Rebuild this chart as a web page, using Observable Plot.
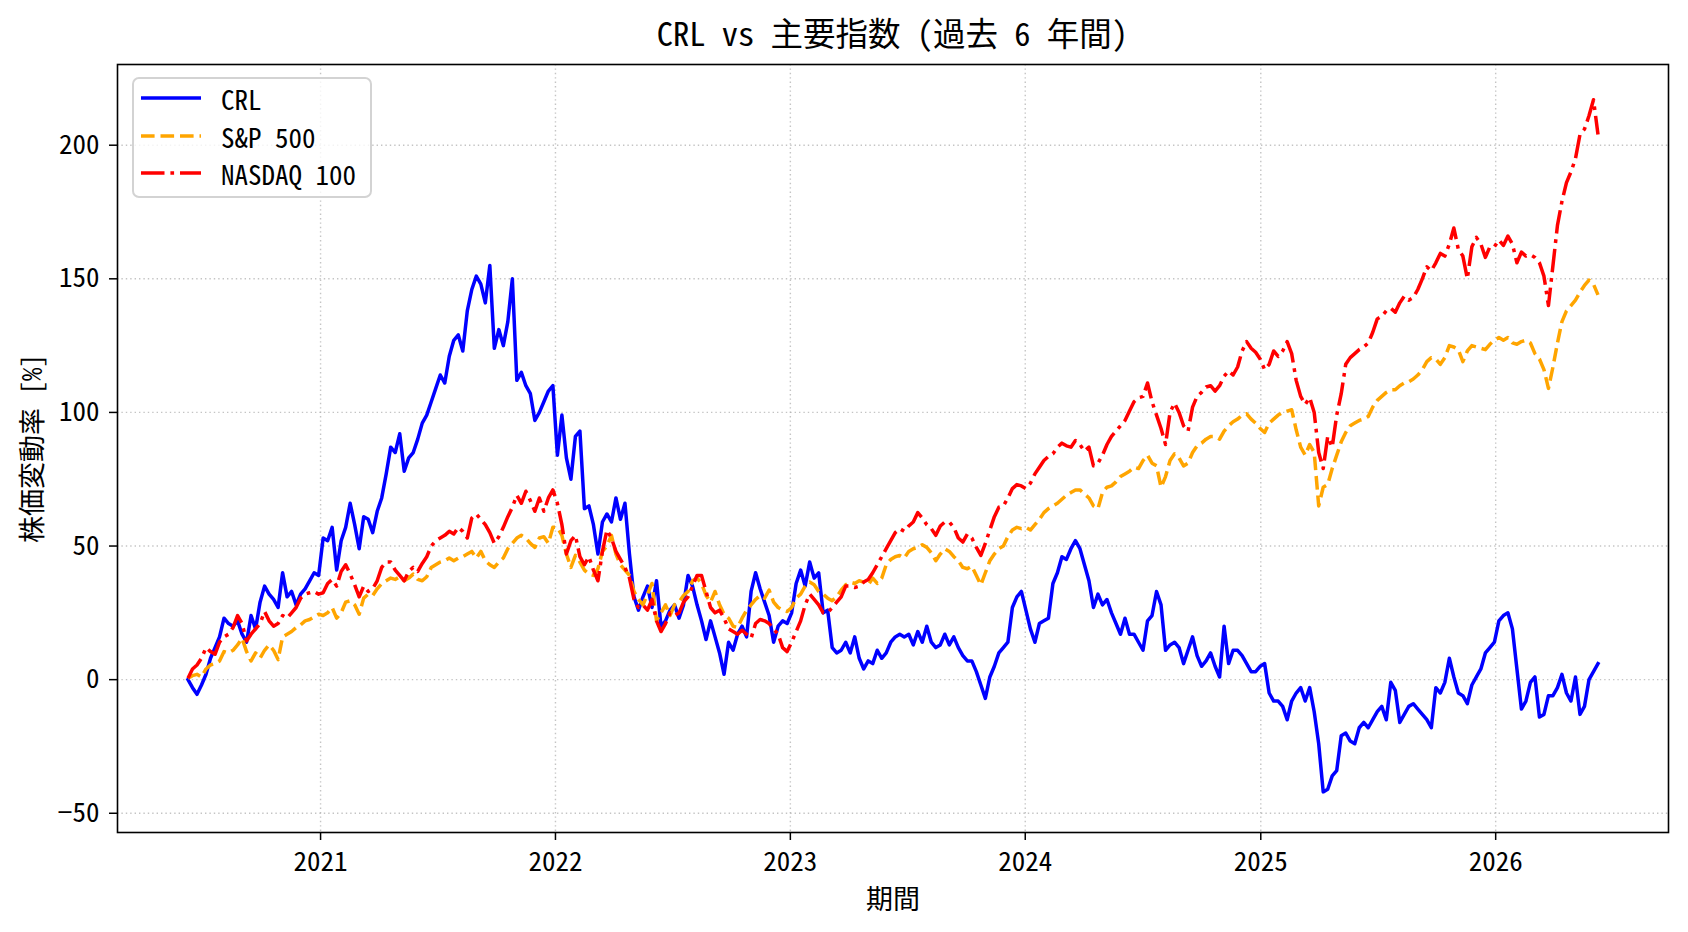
<!DOCTYPE html>
<html>
<head>
<meta charset="utf-8">
<script src="https://cdn.jsdelivr.net/npm/d3@7"></script>
<script src="https://cdn.jsdelivr.net/npm/@observablehq/plot@0.6"></script>
<style>
  html, body { margin: 0; padding: 0; background: #ffffff; }
  #wrap { position: relative; width: 1688px; height: 932px; font-family: "Noto Sans CJK JP", sans-serif; color: #000;
          font-feature-settings: "hwid" 1; }
  svg text { font-feature-settings: "hwid" 1; }
  #title { box-sizing: border-box; width: 1688px; height: 56px; padding: 15px 20px 0 117px; text-align: center; font-size: 32.5px; line-height: 34px; }
  #legend { position: absolute; left: 132px; top: 77px; width: 240px; height: 121px; box-sizing: border-box;
            border: 2px solid #d3d3d3; border-radius: 7px; background: rgba(255,255,255,0.8); font-size: 27px; }
  .row { position: absolute; left: 7px; height: 30px; display: flex; align-items: center; white-space: pre; }
  .row svg { display: block; margin-right: 20px; }
</style>
</head>
<body>
<div id="wrap">
  <div id="title">CRL vs 主要指数 (過去 6 年間)</div>
  <div id="chart"></div>
  <div id="legend"></div>
</div>
<script>
// ---- data (weekly closes, % change from start) ----
const startDate = "2020-06-09";
const seriesNames = ["CRL", "S&P 500", "NASDAQ 100"];
const seriesColors = ["#0000ff", "#ffa500", "#ff0000"];
const yTickValues = [-50, 0, 50, 100, 150, 200];
const xTickYears = [2021, 2022, 2023, 2024, 2025, 2026];

const crl = [
0,-3,-5.5,-2,2,8,12,16,23,21,
20,22,17,14,24,19,29,35,32,30,
27,40,31,33,28,32,34,37,40,39,
53,52,57,41,52,57,66,58,49,61,
60,55,63,68,77,87,85,92,78,83,
85,90,96,99,104,109,114,111,121,127,
129,123,138,146,151,148,141,155,124,131,
125,134,150,112,115,110,107,97,100,104,
108,110,84,99,83,75,91,93,64,65,
58,47,59,62,59,68,60,66,47,31,
26,31,35,27,37,20,22,26,28,23,
28,39,35,28,22,15,22,16,10,2,
14,11,17,20,16,33,40,34,29,24,
14,20,22,21,25,36,41,35,44,38,
40,25,26,12,10,11,14,10,16,8,
4,7,6,11,8,10,14,16,17,16,
17,13,18,14,20,14,12,13,17,13,
16,12,9,7,7,3,-2,-7,1,5,
10,12,14,27,31,33,26,19,14,21,
22,23,36,40,46,45,49,52,49,43,
37,27,32,28,30,25,21,17,23,17,
17,14,11,22,24,33,28,11,13,14,
12,6,11,16,9,5,7,10,5,1,
20,6,11,11,9,6,3,3,5,6,
-5,-8,-8,-10,-15,-8,-5,-3,-8,-3,
-12,-24,-42,-41,-36,-34,-21,-20,-23,-24,
-18,-16,-18,-15,-12,-10,-15,-1,-4,-16,
-13,-10,-9,-11,-13,-15,-18,-3,-5,-1,
8,1,-5,-6,-9,-2,1,4,10,12,
14,22,24,25,19,4,-11,-8,-1,1,
-14,-13,-6,-6,-3,2,-5,-8,1,-13,
-10,0,3,6
];

const sp500 = [
0.5,1.5,2,1,4,5.5,6,7,10.5,10,
11,13,15.5,10.5,7,10,8,11,13,11,
7.5,16,17,18,19.5,20.5,22,22.5,23.5,24.5,
24,25,27,23,25,29,29.5,28,24.5,30.5,
32,31.5,34,36,37,38,37.5,38.5,37,38,
39.5,37.5,37,38.5,42,43,44,44.5,45.5,44.5,
45.5,46,47,48,45.5,48,44.5,43,42,44,
45.5,49,51,53,54,53,51,49.5,53,53.5,
51,57,57,54,47,42,46.5,44,41,39.5,
39,41.5,48,50,54,47,43,41,39,33,
30,28,32,36,22,25,28,24,28,29,
31.5,33,37,38,36,31.5,29,33,28,24.5,
23,20,19.5,23,26,28,30,31.5,30.5,33.5,
29,27,26,25.5,27,30.5,32,35,36.5,35.5,
33,32,30.5,29.5,31,33.5,35.5,36.5,36,37,
36.5,35.5,38,36,38,43,45,46,46.5,45.5,
48,49,49.5,50.5,49.5,47.5,44.5,47,49,48,
46,44.5,42,41.5,42.5,39,35.5,40,44.5,47,
49,50,53.5,56,57,56.5,57,56,58,60,
62.5,64,65,66,67.5,69,70,71,71,69.5,
68,65,64,70,72,72.5,74,76,77,78,
79.5,79,82,84,81,80,72,76,82,84.5,
83,80,81,85,87.5,88.5,90,91,91,90,
93,95,96.5,97.5,99,99.5,97.5,96,94,92.5,
96,97.5,99,100,100.5,101,93.5,87,84,88,
85,65,72,73,79,84,89,92.5,95,96,
97,97.5,98.5,102,104.5,106,107.5,108.5,108.5,110,
111,111.5,112.5,114,116,119,120.5,120,118,120.5,
125,124.5,123.5,119,123,125,124.5,124,123.5,125.5,
127,128,127,128,126,125.5,126.5,127,126,122,
120,116,109,117,126,134,138,140,142,145,
147.5,149.5,148,144
];

const nasdaq = [
0.5,4,5.5,8,12,10.5,9.5,14,16,17,
19.5,24,21,14.5,17,19,21,25.5,22,20,
21,24,23,25,27,30.5,32,32.5,33,32,
32.5,36,37.5,35,40.5,43,39.5,35.5,31,35,
33,34,37,42,44,44,41,39,37,40.5,
42,40.5,43.5,46,50,52,53,54,55.5,54.5,
57,55.5,53,60.5,62,60,58,55,51,53.5,
57,61,64.5,69,66,70.5,67,63,68,63,
68,71,66,58,47,52,54,46,43,46,
41,37,48,56,53,48,45,42,38,30,
27,28,26,30,22,18,21,25,24,25,
29,31,35,39,39,33,27,25,26,23,
19,18,17,18.5,17,15.5,21,22.5,22,21,
19,17,12,10.5,14,18,22,28,32,30,
28,25,25,27,29,31,35,35,34.5,35,
36.5,37.5,40,43,46,49,52,55,56.5,55.5,
57.5,59,62.5,60.5,58,56.5,54,57.5,59,59,
57,53,51.5,54.5,53,49.5,46.5,51,56,61,
64.5,65,68,71.5,73,72.5,71.5,73.5,77,79.5,
82,83.5,84.5,87,88.5,87.5,87,89.5,88,85.5,
87,80,81,84,88,91,93,95,97,100.5,
104,105.5,106,111,104,99,94,88,100,103.5,
100,95,93,102,106,107.5,109.5,110,108,110,
113.5,115.5,114,117,123,126.5,124,122.5,120,116,
118,123,121,123,126.5,122,112,106,103,105.5,
100,85,79,91,87,99,107,118,120.5,122,
123.5,124.5,126,130,135,136,138,139,137.5,141,
143.5,142,143,146,150,154.5,153,156,159.5,158.5,
163,169,161,158.5,150,162,165.5,163,158,162,
162,164.5,162.5,166,163,156,160,158.5,159,158,
156,151,140,155,170,179,186,190,195,204,
206,211,217,204
];

// ---- build table ----
const start = new Date(startDate + "T00:00:00Z");
const rows = crl.map((v, i) => ({
  date: d3.utcDay.offset(start, 7 * i),
  crl: v,
  sp: sp500[i],
  nq: nasdaq[i]
}));
const xTicks = xTickYears.map(y => new Date(Date.UTC(y, 0, 1)));
const first = rows[0].date, last = rows[rows.length - 1].date;
const pad = (last - first) * 0.05;

const lineStyles = [
  {key: "crl", dash: null},
  {key: "sp", dash: "13.6,5.9"},
  {key: "nq", dash: "23.5,5.9,3.7,5.9"}
];
const LW = 3.5;

const chart = Plot.plot({
  width: 1688,
  height: 876,
  marginTop: 8,
  marginBottom: 100,
  marginLeft: 117,
  marginRight: 20,
  style: {fontFamily: "'Noto Sans CJK JP', sans-serif", fontSize: "27px", color: "#000", background: "#fff"},
  x: {type: "utc", domain: [new Date(+first - pad), new Date(+last + pad)]},
  y: {domain: [-57.2, 230.2]},
  marks: [
    Plot.gridX(xTicks, {stroke: "#b0b0b0", strokeOpacity: 0.75, strokeWidth: 1.4, strokeDasharray: "1.4,3"}),
    Plot.gridY(yTickValues, {stroke: "#b0b0b0", strokeOpacity: 0.75, strokeWidth: 1.4, strokeDasharray: "1.4,3"}),
    ...lineStyles.map((s, k) => Plot.lineY(rows, {
      x: "date", y: s.key, stroke: seriesColors[k], strokeWidth: LW,
      strokeDasharray: s.dash, strokeLinecap: s.dash ? "butt" : "square", strokeLinejoin: "round"
    })),
    Plot.frame({stroke: "#000", strokeWidth: 1.6}),
    Plot.axisX({ticks: xTicks, tickFormat: d3.utcFormat("%Y"), tickSize: 8, tickPadding: 11, strokeWidth: 1.5,
      label: "期間", labelAnchor: "center", labelArrow: "none", labelOffset: 76}),
    Plot.axisY({ticks: yTickValues, tickSize: 8, tickPadding: 10, strokeWidth: 1.5,
      label: "株価変動率 [%]", labelAnchor: "center", labelArrow: "none", labelOffset: 95})
  ]
});
document.getElementById("chart").appendChild(chart);

// ---- legend ----
const legend = document.getElementById("legend");
const rowCenters = [19, 57, 94];
seriesNames.forEach((name, k) => {
  const row = document.createElement("div");
  row.className = "row";
  row.style.top = (rowCenters[k] - 15) + "px";
  const dash = lineStyles[k].dash;
  row.innerHTML = `<svg width="60" height="10"><line x1="0" y1="5" x2="60" y2="5" stroke="${seriesColors[k]}" stroke-width="${LW}" ${dash ? `stroke-dasharray="${dash}"` : ""}/></svg><span></span>`;
  row.querySelector("span").textContent = name;
  legend.appendChild(row);
});
</script>
</body>
</html>
